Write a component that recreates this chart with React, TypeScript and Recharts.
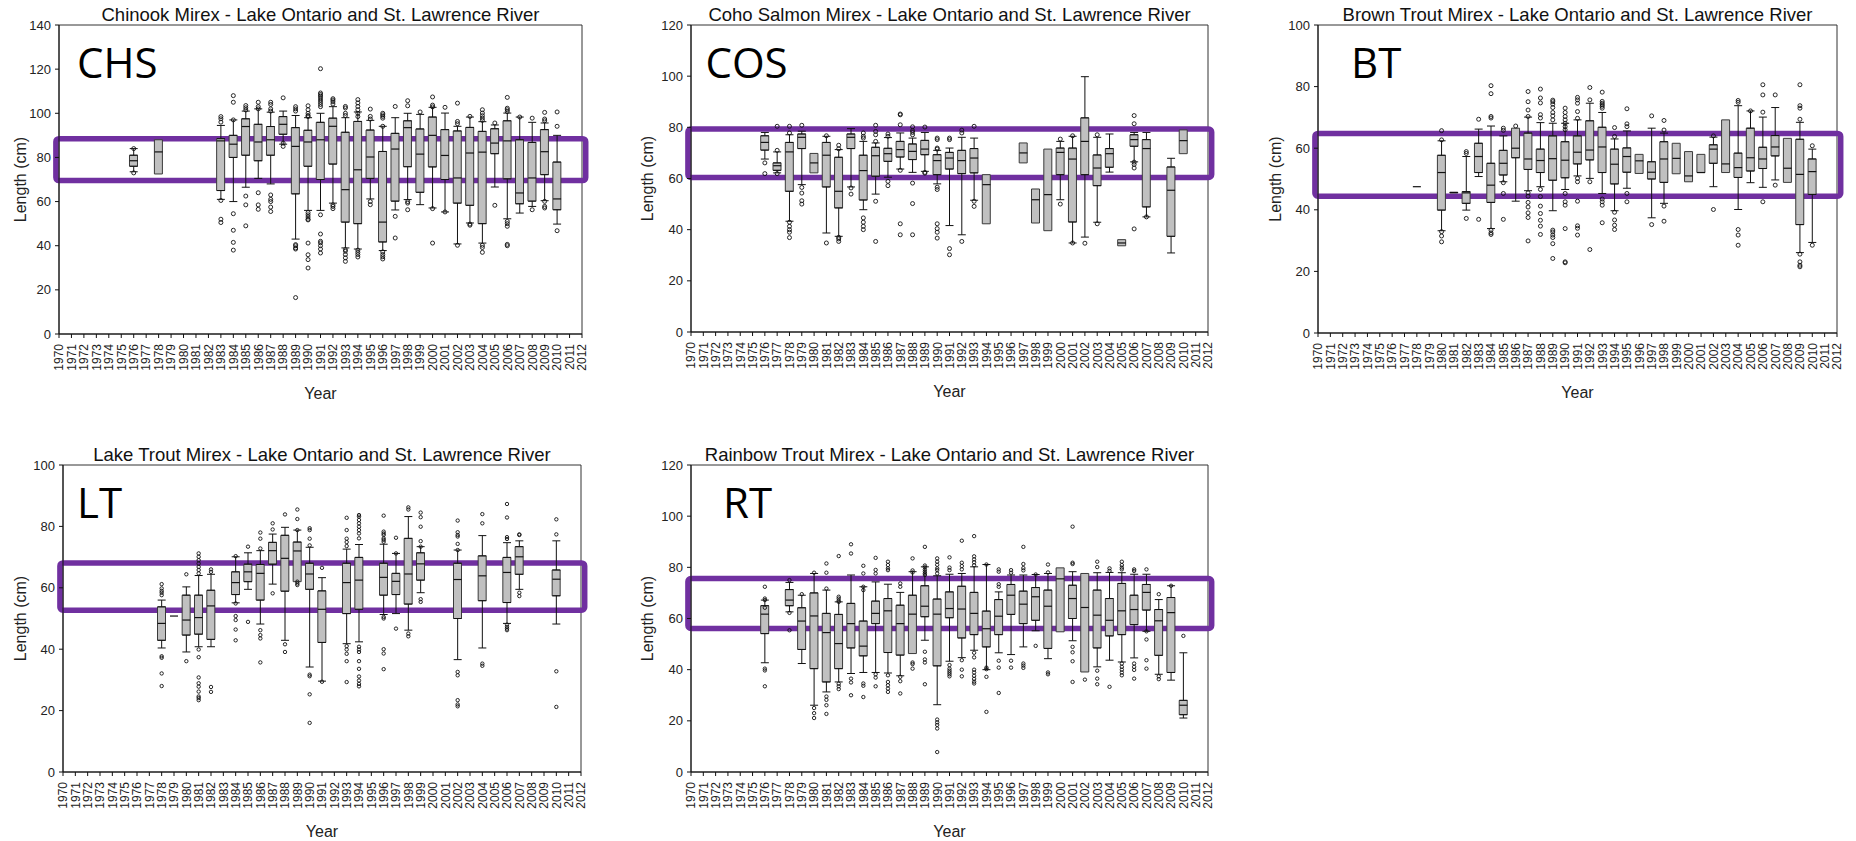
import React from "react";
import { ComposedChart, Bar, Scatter, ErrorBar, XAxis, YAxis, ReferenceArea } from "recharts";

const FONT = '"Liberation Sans", Arial, sans-serif';
const CODE_FONT = '"Open Sans", "Noto Sans", sans-serif';
const PURPLE = "#7030a0";

const YEARS = [
  1970, 1971, 1972, 1973, 1974, 1975, 1976, 1977, 1978, 1979, 1980, 1981, 1982, 1983, 1984,
  1985, 1986, 1987, 1988, 1989, 1990, 1991, 1992, 1993, 1994, 1995, 1996, 1997, 1998, 1999,
  2000, 2001, 2002, 2003, 2004, 2005, 2006, 2007, 2008, 2009, 2010, 2011, 2012,
];
const TICKS_140 = [0, 20, 40, 60, 80, 100, 120, 140];
const TICKS_120 = [0, 20, 40, 60, 80, 100, 120];
const TICKS_100 = [0, 20, 40, 60, 80, 100];

// [year, lower whisker, q1, median, q3, upper whisker]
type Row = [number, number, number, number, number, number];
// [year, outlier values]
type Out = [number, number[]];

const CHS_BOXES: Row[] = [
  [1976, 73.5, 76, 78.5, 81, 84],
  [1978, 72.5, 72.5, 82.5, 88, 88],
  [1983, 61, 65, 87.5, 88.5, 94.5],
  [1984, 60, 80, 86, 90, 97],
  [1985, 66.5, 81, 94, 97.5, 101],
  [1986, 70.5, 78.5, 87, 95, 102],
  [1987, 68, 81, 88, 94, 100.5],
  [1988, 86, 90.5, 95, 98.5, 101],
  [1989, 43, 63.5, 85, 93.5, 99],
  [1990, 56, 76, 87, 92.3, 98],
  [1991, 56, 70, 88, 95.9, 100],
  [1992, 59.3, 77, 94.1, 97.8, 103],
  [1993, 39, 50.7, 65.4, 91.4, 98],
  [1994, 38.5, 50, 74.4, 96.3, 100.6],
  [1995, 61.2, 70.5, 80.2, 92.4, 96.8],
  [1996, 37.8, 41.7, 50.7, 82.7, 94.1],
  [1997, 56.2, 60.2, 83.8, 90.9, 98],
  [1998, 60.9, 75.8, 93.5, 96.6, 100],
  [1999, 58.6, 64.2, 81.5, 92.9, 99.5],
  [2000, 57.1, 75.7, 90, 98.3, 102.7],
  [2001, 55.3, 70, 80.9, 92.6, 100.1],
  [2002, 40.8, 59.3, 70.7, 92, 94.1],
  [2003, 50.3, 58.3, 82, 93.6, 98.3],
  [2004, 41.2, 50, 82.4, 91.8, 96.2],
  [2005, 66.6, 81.7, 86.5, 93, 94.7],
  [2006, 52.2, 70.3, 87.5, 96.6, 100.1],
  [2007, 54.8, 59, 63.9, 88, 98.3],
  [2008, 57.8, 60.2, 70.7, 86.8, 95.9],
  [2009, 60.4, 72.2, 82.6, 92.6, 95.6],
  [2010, 49.8, 56.3, 61.2, 77.9, 90],
];
const CHS_OUT: Out[] = [
  [1976, [84, 73]],
  [1983, [98.5, 97.5, 96, 60.5, 52, 50.5]],
  [1984, [108, 105, 97, 54.5, 47, 41.5, 38]],
  [1985, [103.5, 102.5, 101.5, 62.5, 58.5, 49]],
  [1986, [105, 103, 102, 64, 58.5, 56.5]],
  [1987, [105, 104, 102, 101, 63, 61, 60, 57.5, 55.5]],
  [1988, [107, 86.5, 85]],
  [1989, [103, 102, 101, 40.5, 40, 39, 38.5, 16.5]],
  [1990, [103.4, 101.6, 100, 99, 98.5, 55, 54, 53, 52, 51.7, 41.2, 35.9, 33.7, 29.9]],
  [1991, [120.2, 109.2, 108.5, 107.8, 107, 106, 105, 104, 103, 54, 45.3, 42, 41.3, 40, 38.5, 36.7]],
  [1992, [106.6, 106, 105.2, 104.2, 58.5, 57.8, 56.8]],
  [1993, [103.1, 102.4, 100, 99, 38.2, 37.5, 36, 34.5, 32.9]],
  [1994, [106.2, 104.7, 103.1, 101.6, 100, 98.5, 38, 37, 36, 34.9]],
  [1995, [101.9, 98.6, 97.4, 60, 58.6]],
  [1996, [100, 99.3, 98.6, 97.8, 94.1, 37.2, 36, 35, 34]],
  [1997, [103.1, 53.3, 43.5]],
  [1998, [105.7, 103.4, 60, 59.3, 56.3]],
  [1999, [100.6]],
  [2000, [107.4, 103.7, 102.9, 56.8, 41.2]],
  [2001, [102.7, 55.3]],
  [2002, [104.6, 96.3, 95.3, 40.2]],
  [2003, [98.6, 49.8, 49.3]],
  [2004, [101.6, 100.1, 98.9, 97.8, 96.8, 40.2, 39.2, 37]],
  [2005, [95.6, 58.3]],
  [2006, [107.2, 102.3, 101.6, 100.8, 51, 50, 48.8, 40.6, 40]],
  [2007, [98.3]],
  [2008, [97.8, 56.3]],
  [2009, [100.4, 97.4, 96.6, 60.1, 57.8, 57.1]],
  [2010, [100.6, 94.1, 46.8]],
];

const COS_BOXES: Row[] = [
  [1976, 67.6, 71.1, 74.1, 76.7, 78],
  [1977, 62.2, 63.2, 65, 66.1, 70.4],
  [1978, 43.3, 55, 70.4, 74.1, 77.1],
  [1979, 57.6, 71.7, 76.1, 77.4, 78.5],
  [1980, 62.2, 62.2, 66.1, 69.8, 69.8],
  [1981, 38.7, 56.7, 69.1, 74.1, 76.5],
  [1982, 37.4, 48.5, 55, 68.3, 71.3],
  [1983, 56.7, 71.7, 76.1, 77.4, 79.5],
  [1984, 47.8, 51.6, 63.1, 69.1, 74.5],
  [1985, 53.9, 60.9, 68.9, 72.2, 73.9],
  [1986, 60.5, 66.7, 69.7, 71.8, 76],
  [1987, 63.7, 68.4, 71.3, 74.5, 77.8],
  [1988, 62.4, 67.4, 70.6, 73.5, 75.8],
  [1989, 62.8, 69.3, 71.5, 74.9, 78],
  [1990, 57.9, 61.5, 67, 69.3, 71],
  [1991, 41.6, 63.7, 68, 70.2, 71.9],
  [1992, 38, 61.9, 67, 71, 76.1],
  [1993, 51.5, 62.2, 68, 71.7, 75.8],
  [1994, 42.3, 42.3, 57.6, 61.5, 61.5],
  [1997, 66.1, 66.1, 70, 73.9, 73.9],
  [1998, 42.6, 42.6, 51.7, 55.9, 55.9],
  [1999, 39.6, 39.6, 53.7, 71.5, 71.5],
  [2000, 51.7, 61.5, 70.2, 71.9, 74.5],
  [2001, 34.8, 43, 67.6, 71.9, 76.5],
  [2002, 37.1, 61.5, 74.5, 83.7, 99.8],
  [2003, 42.9, 57.2, 64.1, 69.2, 76.1],
  [2004, 62.5, 64.4, 69.7, 71.7, 77.4],
  [2005, 33.7, 33.7, 34.8, 36.1, 36.1],
  [2006, 66.5, 72.6, 75.2, 77.1, 78],
  [2007, 45, 48.9, 71.7, 75.2, 78],
  [2009, 30.9, 37.4, 55.4, 64.5, 67.9],
  [2010, 69.7, 69.7, 74.8, 79, 79],
];
const COS_OUT: Out[] = [
  [1976, [66.1, 61.9]],
  [1977, [71, 80.4, 61.9]],
  [1978, [80.4, 77.8, 42.9, 41.3, 40, 39, 36.9]],
  [1979, [80.8, 56.5, 54.3, 51.3, 50]],
  [1981, [76.7, 34.8]],
  [1982, [73, 71.6, 37, 36.4, 35.4]],
  [1983, [56.3, 53.9]],
  [1984, [77.8, 76.5, 75.8, 44.6, 42.9, 41.3, 40]],
  [1985, [80.8, 78.4, 77.1, 74.5, 51.1, 35.4]],
  [1986, [77.4, 76.5, 58.9, 57.2]],
  [1987, [85.2, 84.9, 81, 63.2, 42.3, 38]],
  [1988, [80.2, 78.7, 78, 77.1, 58.2, 50.2, 38]],
  [1989, [80.1, 62.4, 62.1]],
  [1990, [75.8, 75.2, 71.9, 71.5, 56.6, 55.7, 42.3, 40.4, 39, 36.7]],
  [1991, [75.8, 75.2, 32.6, 30.2]],
  [1992, [78.9, 77.8, 35.4]],
  [1993, [80.4, 51.1, 49.1]],
  [2000, [75.4, 50]],
  [2001, [76.7, 34.8]],
  [2002, [34.7]],
  [2003, [77.1, 42.3]],
  [2006, [84.6, 81.4, 66.4, 65.5, 64.1, 40.3]],
  [2007, [45]],
];

const BT_BOXES: Row[] = [
  [1978, 47.5, 47.5, 47.5, 47.5, 47.5],
  [1980, 33.2, 39.9, 52.1, 57.7, 62.4],
  [1981, 45.5, 45.5, 45.6, 45.7, 45.7],
  [1982, 39.9, 42.1, 45.5, 45.9, 57.3],
  [1983, 50.8, 52.1, 57.3, 61.6, 66.2],
  [1984, 33.9, 42.4, 48, 55.1, 67.2],
  [1985, 49.1, 51.3, 55.1, 59.3, 64],
  [1986, 42.8, 56.9, 60, 66.5, 66.5],
  [1987, 46.2, 53.1, 56.5, 64.9, 70.1],
  [1988, 47.5, 52.1, 56, 59.7, 68.3],
  [1989, 39.7, 49.6, 56.6, 64, 68.1],
  [1990, 46.6, 50.4, 56.1, 62.1, 68.1],
  [1991, 51, 54.9, 58.7, 64, 69.2],
  [1992, 50.2, 56.2, 59.4, 68.9, 74.6],
  [1993, 45.3, 52.1, 60.4, 66.8, 71.6],
  [1994, 39.7, 48.4, 54.8, 59.7, 63],
  [1995, 47, 52.2, 57.3, 60.1, 65.6],
  [1996, 51.8, 51.8, 55.9, 58, 58],
  [1997, 37.4, 50, 52.2, 55.6, 66.5],
  [1998, 42.1, 48.9, 56.5, 62.1, 64.9],
  [1999, 51.7, 51.7, 56.7, 61.6, 61.6],
  [2000, 49.1, 49.1, 51, 58.9, 58.9],
  [2001, 52.1, 52.1, 52.1, 58, 58],
  [2002, 47.5, 55.1, 59.7, 61.1, 63.6],
  [2003, 52.1, 52.1, 54.9, 69.2, 69.2],
  [2004, 40.1, 50.5, 53.7, 58.4, 73.8],
  [2005, 48.8, 52.6, 56.9, 66.5, 72.1],
  [2006, 47.3, 53.4, 56.5, 60.3, 70.1],
  [2007, 49.7, 57.5, 60.4, 64.1, 73.2],
  [2008, 48.9, 48.9, 53.5, 63.2, 63.2],
  [2009, 26.1, 35.2, 51.5, 62.9, 68.4],
  [2010, 29.4, 45, 52.4, 56.5, 59.7],
];
const BT_OUT: Out[] = [
  [1980, [65.7, 62.7, 32.9, 31.5, 29.6]],
  [1982, [58.9, 58.3, 37.2]],
  [1983, [69.4, 36.9]],
  [1984, [80.3, 77.7, 70.3, 69.8, 33.4, 32.5, 32]],
  [1985, [66.5, 65.8, 48.8, 45.3, 36.9]],
  [1986, [67.2]],
  [1987, [78.4, 75.1, 72.4, 70.3, 45.5, 44.4, 42.4, 40.9, 39, 37.5, 29.9]],
  [1988, [79.2, 76.3, 74.7, 70.9, 69.8, 46.6, 44.3, 41.2, 38.8, 36.6, 34.7, 32]],
  [1989, [75.6, 75.1, 74.3, 73.2, 71.6, 70.5, 69.2, 33.4, 32.8, 31.8, 31, 29, 24.2]],
  [1990, [73, 71.6, 70.3, 69.2, 68.1, 67, 66, 45.3, 42.6, 41.5, 33.9, 23.1, 22.8]],
  [1991, [76.5, 75.7, 74.6, 71.9, 69.7, 50.2, 49.1, 42.8, 34.8, 34, 31.8]],
  [1992, [79.7, 75.7, 49.1, 27.1]],
  [1993, [78.2, 75.2, 74.6, 74.1, 73.6, 73, 43.5, 42.6, 41.5, 35.8]],
  [1994, [66.7, 63.8, 39.2, 36.7, 35, 33.6]],
  [1995, [72.8, 67.9, 67, 45.3, 42.6]],
  [1997, [70.5, 35.2]],
  [1998, [69, 65.9, 41.2, 36.3]],
  [2002, [64, 40.1]],
  [2004, [75.5, 74.9, 33.6, 31.8, 28.5]],
  [2005, [72.1]],
  [2006, [80.6, 77.3, 71.7, 42.6]],
  [2007, [77.3, 48]],
  [2009, [80.6, 73.8, 73, 69.4, 25.6, 23.1, 22, 21.5]],
  [2010, [60.8, 28.5]],
];

const LT_BOXES: Row[] = [
  [1978, 40.4, 42.9, 48.4, 53.8, 56],
  [1979, 50.8, 50.8, 50.8, 50.8, 50.8],
  [1980, 39.1, 44.6, 49.5, 57.6, 60.3],
  [1981, 40.8, 44.9, 50.3, 57.6, 64],
  [1982, 40.8, 43.2, 54.1, 59.2, 64.4],
  [1984, 55.1, 57.8, 61.7, 65.2, 70.1],
  [1985, 59.5, 62, 65.2, 67.7, 71.4],
  [1986, 48.2, 56, 64.7, 67.6, 72.1],
  [1987, 61.2, 67.7, 72.1, 74.8, 77.5],
  [1988, 42.9, 58.9, 69.6, 77.1, 79.7],
  [1989, 62, 62, 72, 74.9, 78.8],
  [1990, 34.2, 59.5, 64.5, 68, 73.2],
  [1991, 29.6, 42.2, 53, 59, 63.3],
  [1993, 41.8, 51.6, 61.7, 68, 72.6],
  [1994, 42.4, 53, 62.5, 69.9, 74.1],
  [1996, 51.3, 57.6, 63.4, 68, 74.2],
  [1997, 51.6, 57.8, 62.1, 64.7, 71.2],
  [1998, 46.2, 54.7, 64.5, 76.1, 83.2],
  [1999, 58.4, 62.5, 67.8, 71.4, 73.4],
  [2002, 36.6, 50, 62.7, 68, 72.3],
  [2004, 40.4, 55.8, 63.9, 70.4, 77],
  [2006, 48.4, 55.2, 65, 69.9, 74.7],
  [2007, 59.5, 64.4, 70.1, 73.4, 75.3],
  [2010, 48.2, 57.4, 62.8, 65.8, 75.3],
];
const LT_OUT: Out[] = [
  [1978, [61.2, 59.8, 59, 58.4, 57.6, 37.7, 37.2, 32.1, 28]],
  [1980, [64.4, 36.1]],
  [1981, [71.2, 70.1, 69, 67.9, 66.8, 65.8, 64.7, 39.9, 37.4, 30.8, 28.9, 27.8, 26.2, 24.6, 24.1, 23.4]],
  [1982, [66, 65.2, 27.7, 26.1]],
  [1984, [70.3, 54.9, 50.8, 49.5, 46.4, 42.9]],
  [1985, [73.4, 48.9]],
  [1986, [78, 76, 72.8, 46.2, 44.6, 43.5, 35.7]],
  [1987, [81, 79, 58.2]],
  [1988, [83.9, 41.6, 39.1]],
  [1989, [85.5, 82.4, 78.8, 62, 61.4, 60.9]],
  [1990, [79.4, 78.8, 76, 73.8, 31.7, 31.2, 25.3, 16]],
  [1991, [66.5, 29.4]],
  [1993, [82.8, 78.8, 76, 74.9, 73.6, 41, 39.9, 38.5, 36.1, 29.3]],
  [1994, [83.7, 83.2, 82.1, 81, 79.9, 78.8, 77.7, 76.1, 40.8, 39.9, 39.1, 36.1, 33.6, 31.1, 29.8, 28.7, 27.9]],
  [1996, [83.5, 78.3, 77.7, 77.2, 76.1, 75.6, 75, 50.5, 50, 40, 38.6, 33.5]],
  [1997, [76.3, 71.2, 46.7]],
  [1998, [86.2, 85.5, 45.1, 44.2]],
  [1999, [84.5, 83, 79.9, 75.2, 73.4, 56.3, 55.4]],
  [2002, [81.9, 78.1, 77.2, 76.7, 74.3, 72.3, 32.6, 31.5, 23.4, 22, 21.4]],
  [2004, [84, 81, 35.3, 34.6]],
  [2006, [87.3, 82.9, 76.5, 75.9, 48, 47.3, 46.7, 46.2]],
  [2007, [77.4, 77.2, 58.4, 57.3]],
  [2010, [82.3, 77.4, 32.8, 21.2]],
];

const RT_BOXES: Row[] = [
  [1976, 42.7, 54.1, 61.7, 65, 67.2],
  [1978, 62.6, 65, 67.2, 71.3, 74.1],
  [1979, 42.4, 47.9, 59, 64.2, 69.1],
  [1980, 26.1, 40.4, 61, 70, 77.6],
  [1981, 31.3, 35.2, 54.5, 62, 71.1],
  [1982, 35.2, 40.4, 50.2, 61.6, 66.5],
  [1983, 38.5, 48.5, 58, 65.9, 77],
  [1984, 38.9, 45.4, 49.2, 59, 72.4],
  [1985, 38.9, 58, 62, 66.8, 74.3],
  [1986, 38.7, 46.7, 63, 67.8, 73.4],
  [1987, 37.6, 45.7, 58, 65.2, 70.2],
  [1988, 46.3, 46.3, 61.7, 69.1, 78.3],
  [1989, 51.5, 60.7, 64.8, 72.8, 80.2],
  [1990, 26.3, 41.5, 61.7, 67.6, 76.7],
  [1991, 43.3, 60.3, 63.9, 70.4, 77.3],
  [1992, 44.7, 52.4, 63.7, 72.6, 77.6],
  [1993, 47.6, 53.7, 62, 70.2, 80.2],
  [1994, 40, 48.9, 56, 62.9, 81.1],
  [1995, 46.6, 53.7, 60.9, 67.4, 70.4],
  [1996, 45.9, 61.6, 69.1, 73.3, 77],
  [1997, 48.9, 58, 65.6, 70.7, 77],
  [1998, 55.2, 59.3, 68.5, 72.1, 77.2],
  [1999, 44.3, 48.3, 64.8, 71.1, 77.6],
  [2000, 54.8, 54.8, 75.5, 79.8, 79.8],
  [2001, 51.3, 60, 67.8, 73, 78.3],
  [2002, 39.1, 39.1, 64.3, 77.6, 77.6],
  [2003, 41.1, 48.5, 61.3, 71.1, 77.9],
  [2004, 43.7, 53.2, 59.3, 67.8, 78],
  [2005, 43, 53.7, 63, 73.7, 77.9],
  [2006, 44.6, 57.6, 63.5, 69.1, 77.3],
  [2007, 55, 63.3, 70.2, 73.3, 77.3],
  [2008, 38.2, 45.6, 59.1, 63.5, 67.4],
  [2009, 35.9, 38.9, 62.3, 68.2, 72.8],
  [2010, 21.1, 22.4, 26.1, 28, 46.6],
];
const RT_OUT: Out[] = [
  [1976, [72.4, 67.8, 67.2, 64.2, 40.4, 39.7, 33.5]],
  [1978, [75, 62.2, 55.4]],
  [1979, [69.5]],
  [1980, [77.9, 25, 23, 21.1]],
  [1981, [81.5, 77.9, 71.7, 29.5, 28.2, 26.1, 22.7]],
  [1982, [84.4, 68.5, 67.8, 67, 66.5, 34.5, 33.5, 32.4]],
  [1983, [89, 85.4, 36.5, 35, 30]],
  [1984, [80.6, 77.6, 72.4, 71.1, 34.6, 33.7, 29.3]],
  [1985, [83.7, 79, 77.6, 38.2, 36.9, 33.5]],
  [1986, [82.2, 80.9, 79.6, 78.9, 37.8, 35.2, 33.9, 32.6, 31.3]],
  [1987, [73.7, 72.4, 37.2, 35.5, 30.7]],
  [1988, [83.5, 78.8, 78, 42.8, 42.2, 40.4]],
  [1989, [88, 80.7, 80, 79.1, 78.3, 77.6, 77, 47, 44, 42.8, 34.3]],
  [1990, [83.5, 82.2, 81, 79.6, 78.9, 77.6, 20.5, 19.4, 18.4, 17, 7.8]],
  [1991, [83.9, 79.9, 78.9, 41.8, 40.4, 39.6, 38.9, 38.2, 37.4]],
  [1992, [90.4, 81.8, 80.5, 79.2, 43.7, 40, 37.4]],
  [1993, [92.2, 84.3, 83.1, 82, 80.8, 46.6, 44.8, 40, 38.9, 37.6, 36.4, 35.3, 34.6]],
  [1994, [81.1, 40.8, 40.2, 37.2, 23.5]],
  [1995, [79.2, 78.3, 73.4, 72.4, 43.5, 40.8, 30.9]],
  [1996, [78.9, 77.9, 43.5, 40.8]],
  [1997, [88, 81.3, 79.7, 78.8, 42.4, 41.6, 40.7]],
  [1998, [77.2, 49.3]],
  [1999, [81.1, 78, 38.9, 38.2]],
  [2001, [95.9, 81.8, 81.3, 48.9, 46.8, 43.3, 35.2]],
  [2002, [36.1]],
  [2003, [82.2, 80.1, 39.6, 36.5, 34.3]],
  [2004, [79.6, 78.6, 33.3]],
  [2005, [82.2, 80.9, 79.9, 79.2, 42.4, 41.1, 40, 38.9, 37.8]],
  [2006, [79.2, 78.6, 42.4, 41.1, 39.9, 36.5]],
  [2007, [79.2, 55, 51.8, 43.7, 40.4]],
  [2008, [69.5, 37.4, 36.3]],
  [2009, [72.8]],
  [2010, [53.2]],
];

// highlighted length range drawn over each panel [bottom, top]
const CHS_BAND = [69.5, 88.5];
const COS_BAND = [60.4, 79.3];
const BT_BAND = [44.4, 64.8];
const LT_BAND = [52.7, 68.1];
const RT_BAND = [56.1, 75.6];

const TITLES = [
  "Chinook Mirex - Lake Ontario and St. Lawrence River",
  "Coho Salmon Mirex - Lake Ontario and St. Lawrence River",
  "Brown Trout Mirex - Lake Ontario and St. Lawrence River",
  "Lake Trout Mirex - Lake Ontario and St. Lawrence River",
  "Rainbow Trout Mirex - Lake Ontario and St. Lawrence River",
];
const CODES = ["CHS", "COS", "BT", "LT", "RT"];

// plot-area placement on the page
const PANELS = [
  { rows: CHS_BOXES, out: CHS_OUT, band: CHS_BAND, ticks: TICKS_140, x0: 59, x1: 582, y0: 25, y1: 334, codeDx: 18, labDx: 39, r: 2 },
  { rows: COS_BOXES, out: COS_OUT, band: COS_BAND, ticks: TICKS_120, x0: 691, x1: 1208, y0: 25, y1: 332, codeDx: 14.5, labDx: 44, r: 2 },
  { rows: BT_BOXES, out: BT_OUT, band: BT_BAND, ticks: TICKS_100, x0: 1318, x1: 1837, y0: 25, y1: 333, codeDx: 33, labDx: 43, r: 2 },
  { rows: LT_BOXES, out: LT_OUT, band: LT_BAND, ticks: TICKS_100, x0: 63, x1: 581, y0: 465, y1: 772, codeDx: 14, labDx: 43, r: 1.7 },
  { rows: RT_BOXES, out: RT_OUT, band: RT_BAND, ticks: TICKS_120, x0: 691, x1: 1208, y0: 465, y1: 772, codeDx: 32, labDx: 44, r: 1.7 },
];

const LEFT = 58;
const TOP = 25;
const RIGHT = 22;
const BOTTOM = 70;

function YearTick(props: any) {
  const { x, y, payload } = props;
  return (
    <text x={x} y={y} transform={`rotate(-90 ${x} ${y})`} textAnchor="end" dy="0.36em"
      fontSize={12} fill="#222" fontFamily={FONT}>
      {payload.value}
    </text>
  );
}

const blank = () => <g />;

function Panel({ cfg }: { cfg: any }) {
  const { rows, out, band, ticks, x0, x1, y0, y1, r } = cfg;
  const yMax = ticks[ticks.length - 1];
  const boxes = (rows as Row[]).map(([year, low, q1, med, q3, high]) => ({ year, low, q1, med, q3, high, box: [q1, q3] }));
  const lower = boxes.filter((b) => b.low < b.q1).map((b) => ({ year: b.year, mid: (b.low + b.q1) / 2, err: (b.q1 - b.low) / 2 }));
  const upper = boxes.filter((b) => b.high > b.q3).map((b) => ({ year: b.year, mid: (b.q3 + b.high) / 2, err: (b.high - b.q3) / 2 }));
  const points = (out as Out[]).flatMap(([year, vals]) => vals.map((v) => ({ year, v })));
  const W = x1 - x0 + LEFT + RIGHT;
  const H = y1 - y0 + TOP + BOTTOM;

  return (
    <div style={{ position: "absolute", left: x0 - LEFT, top: y0 - TOP }}>
      <ComposedChart width={W} height={H} data={boxes} margin={{ top: TOP, right: RIGHT, bottom: 0, left: 0 }}>
        <XAxis dataKey="year" type="number" domain={[1970, 2012]} ticks={YEARS} interval={0}
          allowDataOverflow height={BOTTOM} tickSize={4} tickMargin={6} stroke="#111"
          tick={(p: any) => <YearTick {...p} />} />
        <YAxis type="number" domain={[0, yMax]} ticks={ticks} interval={0} allowDataOverflow
          width={LEFT} tickSize={4} tickMargin={4} stroke="#111"
          tick={{ fontSize: 13, fill: "#222", fontFamily: FONT }} />
        <Scatter data={lower} dataKey="mid" shape={blank} isAnimationActive={false}>
          <ErrorBar dataKey="err" direction="y" width={4} stroke="#111" strokeWidth={1} isAnimationActive={false} />
        </Scatter>
        <Scatter data={upper} dataKey="mid" shape={blank} isAnimationActive={false}>
          <ErrorBar dataKey="err" direction="y" width={4} stroke="#111" strokeWidth={1} isAnimationActive={false} />
        </Scatter>
        <Bar dataKey="box" barSize={8} fill="#c0c0c0" stroke="#3a3a3a" strokeWidth={1} isAnimationActive={false} />
        <Scatter data={boxes} dataKey="med" isAnimationActive={false}
          shape={(p: any) => <line x1={p.cx - 4} x2={p.cx + 4} y1={p.cy} y2={p.cy} stroke="#111" strokeWidth={1.2} />} />
        <Scatter data={points} dataKey="v" isAnimationActive={false}
          shape={(p: any) => <circle cx={p.cx} cy={p.cy} r={r} fill="none" stroke="#111" strokeWidth={0.9} />} />
        <ReferenceArea x1={1970} x2={2012} y1={0} y2={yMax} fill="none" stroke="#333" strokeWidth={1} ifOverflow="visible" />
        <ReferenceArea x1={1969.75} x2={2012.3} y1={band[0]} y2={band[1]} fill="none" fillOpacity={0}
          stroke={PURPLE} strokeWidth={5.5} strokeOpacity={1} radius={3} ifOverflow="visible" />
      </ComposedChart>
    </div>
  );
}

export default function App() {
  return (
    <div style={{ position: "absolute", left: 0, top: 0, width: 1856, height: 841, background: "#fff", overflow: "hidden" }}>
      {PANELS.map((cfg, i) => (
        <Panel key={CODES[i]} cfg={cfg} />
      ))}
      <svg width={1856} height={841} style={{ position: "absolute", left: 0, top: 0, pointerEvents: "none" }}>
        {PANELS.map((cfg, i) => {
          const cx = (cfg.x0 + cfg.x1) / 2;
          const cy = (cfg.y0 + cfg.y1) / 2;
          const lx = cfg.x0 - cfg.labDx;
          return (
            <g key={CODES[i]}>
              <text x={cx} y={cfg.y0 - 4.5} textAnchor="middle" fontSize={18.5} fontFamily={FONT} fill="#111">
                {TITLES[i]}
              </text>
              <text x={lx} y={cy} transform={`rotate(-90 ${lx} ${cy})`} textAnchor="middle" dy="0.35em"
                fontSize={16} fontFamily={FONT} fill="#222">
                Length (cm)
              </text>
              <text x={cx} y={cfg.y1 + 59} textAnchor="middle" dy="0.35em" fontSize={16} fontFamily={FONT} fill="#222">
                Year
              </text>
              <text x={cfg.x0 + cfg.codeDx} y={cfg.y0 + 53} fontSize={42} fontFamily={CODE_FONT} fill="#000">
                {CODES[i]}
              </text>
            </g>
          );
        })}
      </svg>
    </div>
  );
}
